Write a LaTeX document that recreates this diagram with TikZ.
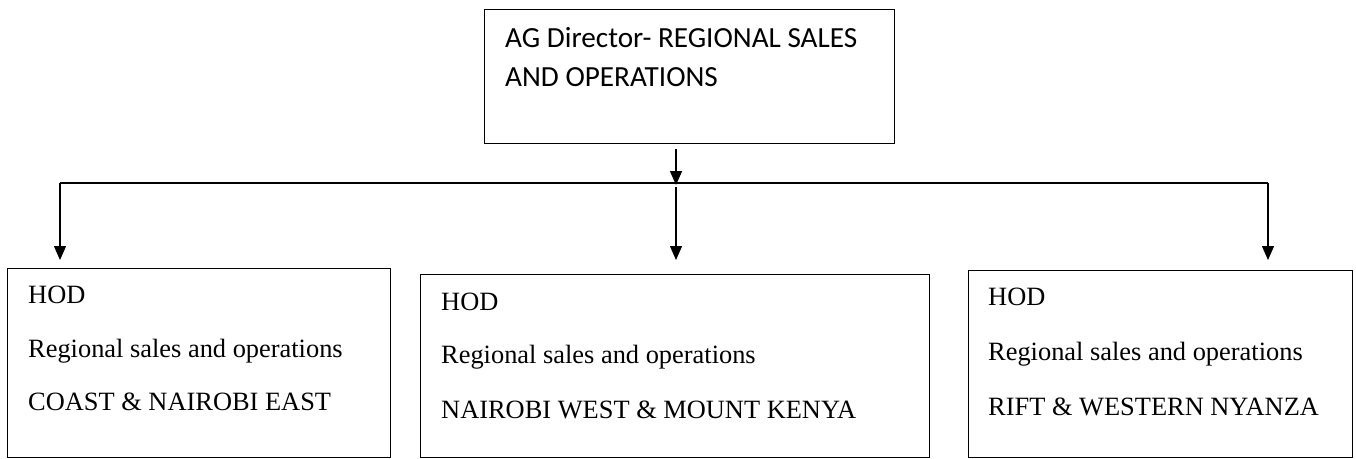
\documentclass[tikz,border=0pt]{standalone}
\usepackage{fontspec}
\setmainfont{Liberation Serif}
\newfontfamily\calfont{Carlito}
\usetikzlibrary{arrows.meta,calc}
\begin{document}
\begin{tikzpicture}[x=1pt,y=-1pt,
  box/.style={draw,line width=1.4pt,inner sep=0pt,anchor=north west},
  txt/.style={anchor=base west,inner sep=0pt,font=\fontsize{26.4}{30}\selectfont},
  toptxt/.style={anchor=base west,inner sep=0pt,font=\calfont\fontsize{29.2}{34}\selectfont},
  link/.style={line width=1.4pt},
  arr/.style={line width=1.4pt,-{Triangle[width=12pt,length=14pt]}}]
\useasboundingbox (0,0) rectangle (1356,458);
% boxes
\node[box,minimum width=410pt,minimum height=134pt] (T) at (484,9) {};
\node[box,minimum width=383pt,minimum height=189pt] (L) at (7,268) {};
\node[box,minimum width=509pt,minimum height=183pt] (M) at (420,274) {};
\node[box,minimum width=384pt,minimum height=187pt] (R) at (968,270) {};
% texts
\node[toptxt] (t1) at ($(T.north west)+(21,38)$) {AG Director- REGIONAL SALES};
\node[toptxt] (t2) at ($(T.north west)+(21,77)$) {AND OPERATIONS};
\node[txt] (l1) at ($(L.north west)+(21,35)$) {HOD};
\node[txt] (l2) at ($(L.north west)+(21,89)$) {Regional sales and operations};
\node[txt] (l3) at ($(L.north west)+(21,142)$) {COAST \& NAIROBI EAST};
\node[txt] (m1) at ($(M.north west)+(21,36)$) {HOD};
\node[txt] (m2) at ($(M.north west)+(21,89)$) {Regional sales and operations};
\node[txt] (m3) at ($(M.north west)+(21,144)$) {NAIROBI WEST \& MOUNT KENYA};
\node[txt] (r1) at ($(R.north west)+(20,35)$) {HOD};
\node[txt] (r2) at ($(R.north west)+(20,90)$) {Regional sales and operations};
\node[txt] (r3) at ($(R.north west)+(20,145)$) {RIFT \& WESTERN NYANZA};
% connectors
\coordinate (J) at (676,183);
\coordinate (JL) at (60,183);
\coordinate (JR) at (1268,183);
\draw[link] (JL) -- (JR);
\draw[arr] ($(T.south -| J)+(0,5)$) -- ($(J)+(0,2)$);
\draw[arr] ($(J)+(0,4)$) -- ($(M.north -| J)+(0,-14)$);
\draw[arr] (JL) -- ($(L.north -| JL)+(0,-8)$);
\draw[arr] (JR) -- ($(R.north -| JR)+(0,-10)$);
\end{tikzpicture}
\end{document}
